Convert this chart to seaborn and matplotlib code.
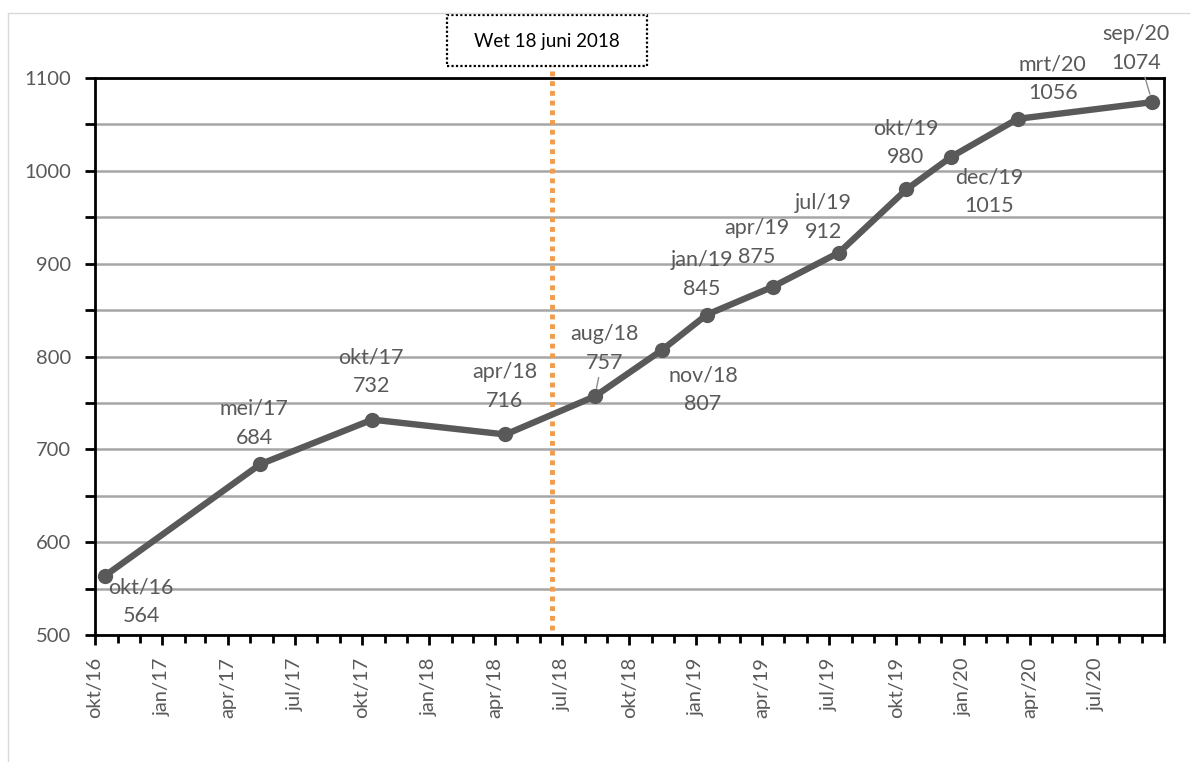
import numpy as np
import pandas as pd
import matplotlib
matplotlib.use("Agg")
import matplotlib.pyplot as plt
import matplotlib.dates as mdates
from matplotlib.ticker import MultipleLocator, FixedLocator, FixedFormatter
from matplotlib.lines import Line2D
from matplotlib.patches import Rectangle
import seaborn as sns

# ========== DATA ==========
dates = ["2016-10-15", "2017-05-15", "2017-10-15", "2018-04-15", "2018-08-15",
         "2018-11-15", "2019-01-15", "2019-04-15", "2019-07-15", "2019-10-15",
         "2019-12-15", "2020-03-15", "2020-09-15"]
months = ["okt/16", "mei/17", "okt/17", "apr/18", "aug/18", "nov/18", "jan/19",
          "apr/19", "jul/19", "okt/19", "dec/19", "mrt/20", "sep/20"]
values = [564, 684, 732, 716, 757, 807, 845, 875, 912, 980, 1015, 1056, 1074]

law_date = "2018-06-18"
law_label = "Wet 18 juni 2018"

tick_dates = ["2016-10-01", "2017-01-01", "2017-04-01", "2017-07-01",
              "2017-10-01", "2018-01-01", "2018-04-01", "2018-07-01",
              "2018-10-01", "2019-01-01", "2019-04-01", "2019-07-01",
              "2019-10-01", "2020-01-01", "2020-04-01", "2020-07-01"]
tick_labels = ["okt/16", "jan/17", "apr/17", "jul/17", "okt/17", "jan/18",
               "apr/18", "jul/18", "okt/18", "jan/19", "apr/19", "jul/19",
               "okt/19", "jan/20", "apr/20", "jul/20"]

# label placement (offset in pixels from the point) - layout only
label_offsets = [(36, -26), (-6, 41), (-1, 48), (-1, 48), (10, 48), (41, -40),
                 (-5, 40), (-16, 44), (-16, 35), (-1, 47), (38, -35), (35, 40),
                 (-16, 54)]
leader = ["aug/18", "sep/20"]

# ========== STYLE ==========
sns.set_style("white")
plt.rcParams['font.family'] = ['Lato', 'DejaVu Sans']
GREY = "#595959"

df = pd.DataFrame({"date": pd.to_datetime(dates), "value": values, "month": months})

fig = plt.figure(figsize=(11.9, 7.62), dpi=100)
ax = fig.add_axes([95 / 1190, 1 - 635 / 762, (1164 - 95) / 1190, (635 - 78) / 762])

sns.lineplot(data=df, x="date", y="value", marker="o", color=GREY, linewidth=4.6,
             markersize=11, markeredgewidth=0, ax=ax, zorder=3)

ax.set_xlim(pd.Timestamp("2016-10-01"), pd.Timestamp("2020-10-01"))
ax.set_ylim(500, 1100)

# axes
ax.yaxis.set_major_locator(MultipleLocator(100))
ax.yaxis.set_minor_locator(MultipleLocator(50))
ax.grid(axis="y", which="both", color="#a6a6a6", linewidth=1.8, zorder=0)
ax.grid(axis="x", visible=False)
for s in ax.spines.values():
    s.set_color("black")
    s.set_linewidth(2)

ax.xaxis.set_major_locator(FixedLocator(mdates.date2num(pd.to_datetime(tick_dates))))
ax.xaxis.set_major_formatter(FixedFormatter(tick_labels))
ax.xaxis.set_minor_locator(mdates.MonthLocator())
ax.tick_params(axis="x", which="major", rotation=90, labelsize=14.5, labelcolor=GREY,
               length=7, width=2, color="black", direction="out", bottom=True, pad=9)
ax.tick_params(axis="x", which="minor", length=6, width=2, color="black",
               direction="out", bottom=True)
ax.tick_params(axis="y", which="both", labelsize=14.5, labelcolor=GREY, length=7,
               width=2, color="black", direction="out", left=True, pad=10)
ax.set_xlabel("")
ax.set_ylabel("")

# data labels
for (d, v, m), off in zip(zip(df["date"], df["value"], df["month"]), label_offsets):
    arrow = dict(arrowstyle="-", color="#8c8c8c", lw=1.0, shrinkA=1, shrinkB=6) \
        if m in leader else None
    ax.annotate(f"{m}\n{v}", xy=(d, v), xytext=off, textcoords="offset pixels",
                ha="center", va="center", fontsize=15.5, color=GREY, linespacing=1.55,
                arrowprops=arrow, zorder=4, annotation_clip=False)

# law line + box
ld = pd.Timestamp(law_date)
ax.vlines(ld, 505, 1114, colors="#f39a4c", linewidth=3.5, linestyles=(0, (1, 1)),
          clip_on=False, zorder=2)
fig.add_artist(Rectangle((447 / 1190, 1 - 66 / 762), 200 / 1190, 51 / 762,
                         transform=fig.transFigure, fill=True, fc="white", ec="black",
                         ls=(0, (1, 1)), lw=1.6))
fig.text(547 / 1190, 1 - 41 / 762, law_label, ha="center", va="center",
         fontsize=13.5, color="black")

# outer chart frame
fig.add_artist(Line2D([8 / 1190, 1], [1 - 13 / 762, 1 - 13 / 762], color="#d9d9d9",
                      lw=1, transform=fig.transFigure))
fig.add_artist(Line2D([8 / 1190, 8 / 1190], [0, 1 - 13 / 762], color="#d9d9d9",
                      lw=1, transform=fig.transFigure))

fig.savefig("out.png", dpi=100)
